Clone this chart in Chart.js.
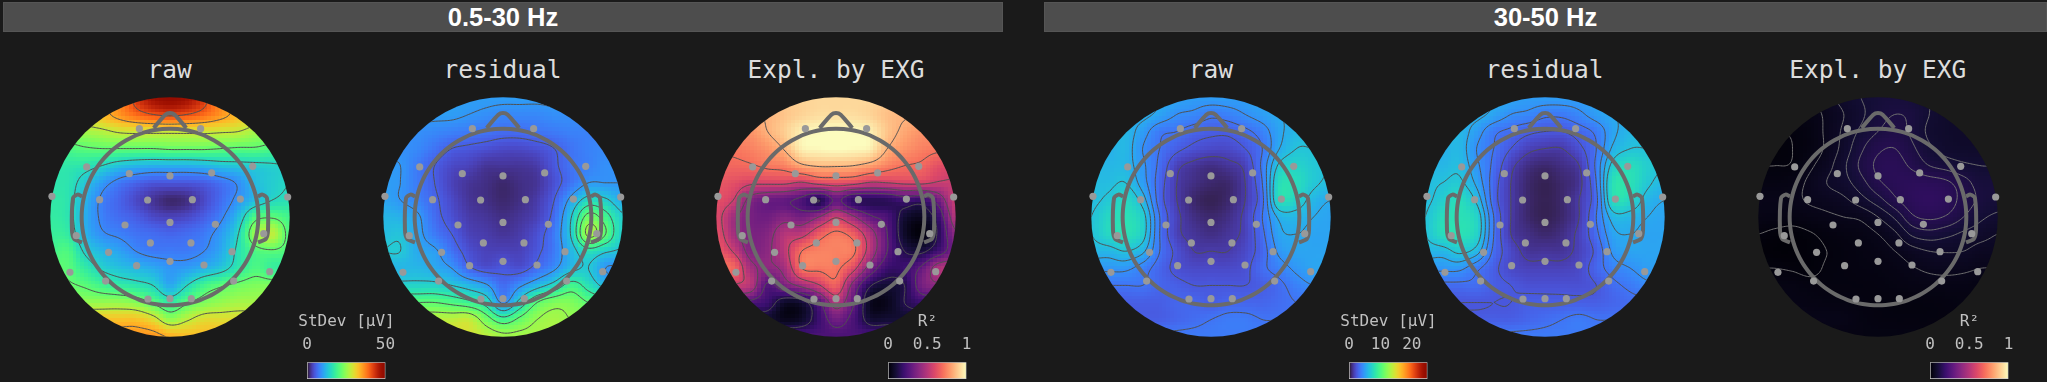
<!DOCTYPE html>
<html>
<head>
<meta charset="utf-8">
<title>EEG topomaps</title>
<script src="https://cdn.jsdelivr.net/npm/chart.js@4"></script>
<style>
  html, body { margin: 0; padding: 0; background: #1a1a1a; width: 2047px; height: 382px; overflow: hidden; }
  .head { position: absolute; top: 2px; height: 30px; background: #4d4d4d; border: 1px solid #555; box-sizing: border-box;
    color: #fff; font: bold 25.5px "Liberation Sans", sans-serif; text-align: center; line-height: 28px; }
  .ttl { position: absolute; top: 55px; width: 260px; text-align: center; color: #ddd; font: 24.5px "DejaVu Sans Mono", monospace; }
  canvas { position: absolute; }
</style>
</head>
<body>
<div class="head" style="left:3px;width:1000px">0.5-30 Hz</div>
<div class="head" style="left:1044px;width:1003px">30-50 Hz</div>
<script>
// band headers and panels
const panelTitles = ["raw", "residual", "Expl. by EXG", "raw", "residual", "Expl. by EXG"];
const panelCenters = [169.7, 502.5, 836, 1211, 1544.5, 1877.7];

// sensor positions in head radius units
const sensorX = [-.256,.256,-.696,-.34,0,.348,.691,-.986,-.588,-.187,.187,.588,.983,-.376,0,.379,-.783,.783,-.164,.175,-.513,.518,-.279,0,.284,-.836,.833,-.538,.532,-.184,0,.178];
const sensorY = [.738,.738,.418,.362,.343,.368,.423,.173,.145,.142,.145,.15,.167,-.067,-.045,-.061,-.156,-.139,-.217,-.217,-.295,-.29,-.407,-.37,-.401,-.462,-.457,-.535,-.535,-.685,-.682,-.682];

// head outline
const noseX = [-.136,-.039,0,.039,.136];
const noseY = [.744,.855,.869,.855,.744];
const earX = [-.735,-.772,-.81,-.819,-.8,-.735];
const earY = [.173,.187,.159,-.106,-.184,-.212];

// values, percent of the colorbar, top row first
const raw1 = [
  [60,60,60,62,70,85,94,97,94,85,70,62,60,60,60],
  [62,62,62,66,72,78,82,84,82,78,72,66,62,62,62],
  [50,50,52,54,57,58,58,58,58,58,57,56,52,50,50],
  [40,40,42,43,43,43,43,44,44,44,43,42,42,40,40],
  [34,34,33,30,26,24,23,23,23,24,26,27,28,29,30],
  [33,33,27,20,15,12,10,10,10,11,14,18,25,28,30],
  [34,33,24,16,12,8,5,3,4,8,13,19,25,30,32],
  [35,33,23,16,13,11,8,7,8,11,16,25,40,42,38],
  [36,35,24,18,16,14,13,12,13,15,20,30,50,55,40],
  [38,40,29,24,21,17,15,15,15,17,22,32,40,42,40],
  [42,42,35,29,26,24,22,19,20,23,27,34,40,36,36],
  [44,44,42,38,35,33,30,22,30,38,42,45,47,47,47],
  [50,50,50,50,50,48,42,35,42,47,50,52,52,52,52],
  [65,65,65,65,65,65,60,50,55,60,60,60,60,60,60],
  [72,72,72,72,72,72,72,68,66,66,66,66,66,66,66]
];
const residual1 = [
  [20,20,20,20,20,20,20,20,20,20,20,20,20,20,20],
  [20,20,20,20,20,19,18,17,17,17,18,18,18,18,18],
  [18,18,18,17,16,15,14,13,13,14,15,16,16,16,16],
  [18,18,17,14,11,10,9,8,8,9,11,14,16,17,17],
  [19,19,15,11,8,7,5,5,5,6,10,14,16,18,18],
  [20,19,15,11,7,5,4,3,4,5,9,14,19,19,19],
  [21,19,16,12,8,5,4,3,4,6,11,21,30,28,22],
  [24,23,20,13,9,6,5,4,5,7,13,27,45,38,28],
  [25,26,21,15,11,7,6,5,6,9,15,28,52,42,28],
  [27,27,22,20,14,9,7,7,7,10,15,24,32,28,26],
  [24,24,24,22,19,12,9,10,9,13,18,25,27,19,19],
  [29,29,29,29,27,24,20,13,18,24,30,38,32,25,25],
  [42,42,42,42,40,37,32,18,30,42,47,47,42,40,40],
  [55,55,55,55,55,56,46,38,44,50,52,50,50,50,50],
  [58,58,58,58,58,58,55,52,52,52,52,52,52,52,52]
];
const expl1 = [
  [90,90,90,90,90,91,92,92,92,92,90,88,88,88,88],
  [85,85,85,85,88,91,93,93,93,91,87,85,85,85,85],
  [78,78,78,84,90,97,99,100,99,97,88,82,78,78,78],
  [72,72,74,78,85,97,99,100,99,97,84,78,74,72,72],
  [68,68,69,72,74,82,85,85,84,80,74,70,68,62,60],
  [64,62,58,58,58,55,60,62,60,55,56,58,58,55,55],
  [62,56,38,32,30,25,14,30,18,16,17,22,20,34,55],
  [60,45,35,33,38,34,42,55,44,30,24,10,6,20,50],
  [62,46,36,38,50,52,65,72,66,48,28,8,2,16,40],
  [65,55,38,40,52,70,74,74,72,50,28,14,12,22,35],
  [68,68,46,40,46,70,72,72,60,36,20,20,30,48,48],
  [60,55,50,26,36,45,55,66,38,15,10,14,34,40,40],
  [30,30,25,20,8,10,26,48,30,6,5,14,20,20,20],
  [10,10,10,10,5,8,20,33,24,10,10,10,10,10,10],
  [24,24,24,24,24,24,24,24,24,24,24,24,24,24,24]
];
const raw2 = [
  [22,22,22,22,22,21,20,20,20,20,21,22,22,22,22],
  [23,23,23,23,21,18,17,15,16,18,20,22,22,22,22],
  [24,24,24,20,15,14,12,11,11,13,16,21,24,24,24],
  [23,23,24,18,14,11,9,8,8,10,14,22,26,26,26],
  [24,24,24,19,13,7,5,4,5,7,15,27,29,27,26],
  [25,25,26,20,12,6,4,3,3,6,14,31,31,27,25],
  [25,27,30,24,12,6,3,2,3,6,13,31,29,24,22],
  [26,30,32,28,14,7,4,3,4,7,14,23,24,22,21],
  [26,30,32,28,14,7,5,4,5,7,13,21,22,21,21],
  [24,24,26,23,14,9,6,6,6,8,12,19,21,21,21],
  [19,19,19,16,12,9,8,8,8,9,13,16,19,21,21],
  [14,14,14,14,12,11,10,10,10,10,11,13,16,18,18],
  [11,11,11,11,11,12,12,11,12,12,12,13,14,14,14],
  [11,11,11,11,11,12,13,14,15,15,14,14,14,14,14],
  [15,15,15,15,15,15,15,15,15,15,15,15,15,15,15]
];
const residual2 = [
  [22,22,22,22,22,21,20,20,20,20,21,22,22,22,22],
  [23,23,23,23,21,18,17,15,15,17,20,22,22,22,22],
  [24,24,24,20,15,13,11,10,10,12,15,21,24,24,24],
  [23,23,24,18,14,10,7,6,6,9,14,23,26,26,26],
  [24,24,25,19,13,7,4,3,4,6,15,28,31,28,26],
  [25,26,27,21,12,6,3,2,3,5,14,32,32,27,24],
  [25,28,31,25,12,6,3,2,3,6,13,31,30,24,22],
  [26,31,32,29,14,6,3,2,3,6,14,24,24,22,21],
  [26,31,32,29,14,6,4,3,4,7,13,21,22,21,21],
  [24,24,27,24,13,8,5,5,5,7,11,19,21,21,21],
  [19,19,19,15,11,8,7,7,7,8,12,16,18,20,20],
  [13,13,13,13,11,10,9,9,9,9,10,13,15,17,17],
  [10,10,10,10,10,10,11,11,11,11,11,12,13,13,13],
  [11,11,11,11,11,11,12,13,14,15,14,14,14,14,14],
  [15,15,15,15,15,15,15,15,15,15,15,15,15,15,15]
];
const expl2 = [
  [4,4,4,4,6,8,9.5,10.5,11,10.5,9.5,8.5,8,8,8],
  [3,3,3,3.5,5,7,9,11,12,11.5,9.5,8,7.5,7.5,7.5],
  [2,2,2.2,3,5,7.5,10,12,13,11.5,9,8,7.5,7.5,7.5],
  [1.5,1.5,2,3,5,8,11.5,14,14.5,12.5,10,8.5,8,8,8],
  [2,2,2.2,4,6,9,12.5,15,15.5,14,12,11,10,9.5,9.5],
  [3,3,3.5,5,7,8.5,11,14,15.5,16,15.8,15,13,11,11],
  [4,4,4,4.8,5.5,6.5,8.5,11,14,16.2,17,16,13.5,11.5,10.5],
  [3.5,3.2,3,3.5,4,4.5,5,7,10,14,15,14.2,12,10,9],
  [2,1.5,1.2,1.8,2.5,3,3.5,4.5,6.5,10,11,10.2,9,8,7],
  [1.2,1,1,1.5,2,2.5,3,3.5,4.5,6,7,7.2,7,6,6],
  [2,2,1.8,1.5,2.2,2.5,2.8,3,3.5,4.3,5,5.3,5,4.5,4.5],
  [3,3,3,2.6,2.5,2.5,2.5,2.6,3,3.3,3.5,3.5,3.5,3.2,3.2],
  [3.5,3.5,3.5,3.2,3,3,2.7,2.5,2.4,2.4,2.5,2.7,3,3,3],
  [4,4,4,4,4,3.8,3,2.6,2.5,2.5,2.5,2.6,2.7,2.7,2.7],
  [3,3,3,3,3,3,3,3,3,3,3,3,3,3,3]
];
const panelGrids = [raw1, residual1, expl1, raw2, residual2, expl2];

// contour levels per panel
const raw1Levels = [17,30,43,56,69,82];
const residual1Levels = [11,19,27,35,42,50];
const expl1Levels = [14,28,42,56,70,84];
const raw2Levels = [6,10,14,18,22,26];
const residual2Levels = [6,10,14,18,22,26];
const expl2Levels = [2,4.5,7,9.5,12,14.5];
const panelLevels = [raw1Levels, residual1Levels, expl1Levels, raw2Levels, residual2Levels, expl2Levels];
const panelMaps = ["turbo", "turbo", "magma", "turbo", "turbo", "magma"];

// colorbars
const barTitles = ["StDev [µV]", "R²", "StDev [µV]", "R²"];
const barLeft = [307, 888.3, 1349.3, 1930.3];
const barMax = [50, 1, 25, 1];
const barTicks = [[0,50], [0,0.5,1], [0,10,20], [0,0.5,1]];
const barMaps = ["turbo", "magma", "turbo", "magma"];

const magmaStops = ["#000004","#140e36","#3b0f70","#641a80","#8c2981","#b5367a","#de4968","#f76f5c","#fe9f6d","#fecf92","#fcfdbf"];

function hexRgb(h) {
  return [parseInt(h.slice(1,3),16), parseInt(h.slice(3,5),16), parseInt(h.slice(5,7),16)];
}
function turbo(t) {
  const r = 0.13572138 + t*(4.6153926 + t*(-42.66032258 + t*(132.13108234 + t*(-152.94239396 + t*59.28637943))));
  const g = 0.09140261 + t*(2.19418839 + t*(4.84296658 + t*(-14.18503333 + t*(4.27729857 + t*2.82956604))));
  const b = 0.1066733 + t*(12.64194608 + t*(-60.58204836 + t*(110.36276771 + t*(-89.90310912 + t*27.34824973))));
  return [r,g,b].map(c => Math.max(0, Math.min(255, c*255)));
}
function magma(t) {
  const p = Math.max(0, Math.min(0.9999, t)) * 10, i = Math.floor(p), f = p - i;
  const a = hexRgb(magmaStops[i]), b = hexRgb(magmaStops[i+1]);
  return a.map((c, k) => c + (b[k]-c)*f);
}
function cssColor(name, t) {
  const c = (name === "turbo" ? turbo : magma)(t);
  return `rgb(${Math.round(c[0])},${Math.round(c[1])},${Math.round(c[2])})`;
}
function cubic(a, b, c, d, f) {
  return b + 0.5*f*(c-a + f*(2*a-5*b+4*c-d + f*(3*(b-c)+d-a)));
}
// samples the read grid the way imshow does with bicubic display
function sampleGrid(grid, x, y) {
  const n = grid.length - 1;
  const gx = (x+1)/2*n, gy = (1-y)/2*n;
  const ix = Math.max(0, Math.min(n-1, Math.floor(gx))), iy = Math.max(0, Math.min(n-1, Math.floor(gy)));
  const fx = gx-ix, fy = gy-iy;
  const cl = i => Math.max(0, Math.min(n, i));
  const rows = [-1,0,1,2].map(k => {
    const r = grid[cl(iy+k)];
    return cubic(r[cl(ix-1)], r[ix], r[cl(ix+1)], r[cl(ix+2)], fx);
  });
  return cubic(rows[0], rows[1], rows[2], rows[3], fy);
}

const fieldPlugin = {
  id: "field",
  beforeDatasetsDraw(chart, args, opts) {
    const ctx = chart.ctx, sx = chart.scales.x, sy = chart.scales.y;
    const cx = sx.getPixelForValue(0), cy = sy.getPixelForValue(0);
    const rad = sx.getPixelForValue(1) - cx;
    const colorOf = opts.map === "turbo" ? turbo : magma;
    ctx.save();
    ctx.beginPath();
    ctx.arc(cx, cy, rad, 0, Math.PI*2);
    ctx.clip();
    const cells = 64;
    for (let j = 0; j < cells; j++) {
      for (let i = 0; i < cells; i++) {
        const x0 = -1 + 2*i/cells, x1 = -1 + 2*(i+1)/cells;
        const y1 = 1 - 2*j/cells, y0 = 1 - 2*(j+1)/cells;
        const v = sampleGrid(opts.grid, (x0+x1)/2, (y0+y1)/2);
        const c = colorOf(v/100);
        ctx.fillStyle = `rgb(${c[0]|0},${c[1]|0},${c[2]|0})`;
        const px = Math.round(sx.getPixelForValue(x0)), py = Math.round(sy.getPixelForValue(y1));
        ctx.fillRect(px, py, Math.round(sx.getPixelForValue(x1))-px, Math.round(sy.getPixelForValue(y0))-py);
      }
    }
    // contour lines, marching squares on the sampled field
    const m = 160, h = 2/m;
    const vals = [];
    for (let j = 0; j <= m; j++) {
      const row = [];
      for (let i = 0; i <= m; i++) row.push(sampleGrid(opts.grid, -1+i*h, 1-j*h));
      vals.push(row);
    }
    ctx.strokeStyle = opts.lineColor;
    ctx.lineWidth = 1;
    ctx.beginPath();
    for (const lv of opts.levels) {
      for (let j = 0; j < m; j++) {
        for (let i = 0; i < m; i++) {
          const a = vals[j][i], b = vals[j][i+1], c = vals[j+1][i+1], d = vals[j+1][i];
          const pts = [];
          const X = -1+i*h, Y = 1-j*h;
          if ((a<lv) !== (b<lv)) pts.push([X + h*(lv-a)/(b-a), Y]);
          if ((b<lv) !== (c<lv)) pts.push([X + h, Y - h*(lv-b)/(c-b)]);
          if ((d<lv) !== (c<lv)) pts.push([X + h*(lv-d)/(c-d), Y - h]);
          if ((a<lv) !== (d<lv)) pts.push([X, Y - h*(lv-a)/(d-a)]);
          for (let k = 0; k+1 < pts.length; k += 2) {
            ctx.moveTo(sx.getPixelForValue(pts[k][0]), sy.getPixelForValue(pts[k][1]));
            ctx.lineTo(sx.getPixelForValue(pts[k+1][0]), sy.getPixelForValue(pts[k+1][1]));
          }
        }
      }
    }
    ctx.stroke();
    ctx.restore();
  }
};

function addCanvas(left, top, w, h) {
  const c = document.createElement("canvas");
  c.width = w; c.height = h;
  c.style.left = left + "px"; c.style.top = top + "px";
  c.style.width = w + "px"; c.style.height = h + "px";
  document.body.appendChild(c);
  return c;
}

function outline(points) {
  return { data: points, showLine: true, pointRadius: 0, borderColor: "#6a6a6a", borderWidth: 4, tension: 0.25, fill: false };
}

const circlePts = [];
for (let a = 0; a <= 72; a++) {
  circlePts.push({ x: .738*Math.cos(a*Math.PI/36), y: .738*Math.sin(a*Math.PI/36) });
}

panelCenters.forEach((cx, p) => {
  const t = document.createElement("div");
  t.className = "ttl";
  t.style.left = (cx-130) + "px";
  t.textContent = panelTitles[p];
  document.body.appendChild(t);

  const span = 130/119.7;
  const grid = panelGrids[p];
  const gridPts = [];
  grid.forEach((row, j) => row.forEach((v, i) => gridPts.push({ x: -1+i/7, y: 1-j/7, v: v })));
  new Chart(addCanvas(cx-130, 87, 260, 260), {
    type: "scatter",
    data: { datasets: [
      { data: sensorX.map((x, i) => ({ x: x, y: sensorY[i] })), pointRadius: 3.6, pointBorderWidth: 0, backgroundColor: "#999999" },
      outline(circlePts),
      outline(noseX.map((x, i) => ({ x: x, y: noseY[i] }))),
      outline(earX.map((x, i) => ({ x: x, y: earY[i] }))),
      outline(earX.map((x, i) => ({ x: -x, y: earY[i] }))),
      { data: gridPts, pointRadius: 0 }
    ] },
    options: {
      responsive: false, animation: false, events: [],
      layout: { padding: 0, autoPadding: false },
      scales: {
        x: { type: "linear", display: false, min: -span, max: span },
        y: { type: "linear", display: false, min: -span, max: span }
      },
      plugins: {
        legend: { display: false }, tooltip: { enabled: false },
        field: { grid: grid, map: panelMaps[p], levels: panelLevels[p], lineColor: p === 5 ? "#727272" : "#505050" }
      }
    },
    plugins: [fieldPlugin]
  });
});

// blank side axes keep the bar narrow while the title gets the full canvas width
function sideAxis(position, width) {
  return {
    position: position,
    grid: { display: false }, border: { display: false }, ticks: { display: false },
    afterFit(s) { s.width = width; }
  };
}

barLeft.forEach((left, b) => {
  new Chart(addCanvas(left-40, 306, 159, 76), {
    type: "bar",
    data: { labels: [""], datasets: [{
      data: [[0, barMax[b]]],
      backgroundColor(c) {
        const area = c.chart.chartArea;
        if (!area) return "#000";
        const g = c.chart.ctx.createLinearGradient(area.left, 0, area.right, 0);
        for (let i = 0; i <= 32; i++) g.addColorStop(i/32, cssColor(barMaps[b], i/32));
        return g;
      },
      borderColor: "#cccccc", borderWidth: 1, borderSkipped: false, barPercentage: 1, categoryPercentage: 1
    }] },
    options: {
      indexAxis: "y", responsive: false, animation: false, events: [],
      layout: { padding: { left: 0, right: 0, top: 0, bottom: 3 }, autoPadding: false },
      scales: {
        y: Object.assign(sideAxis("left", 40), { type: "category" }),
        y2: Object.assign(sideAxis("right", 40.5), { type: "linear" }),
        x: {
          position: "top", min: 0, max: barMax[b],
          grid: { display: false }, border: { display: false },
          afterBuildTicks(s) { s.ticks = barTicks[b].map(v => ({ value: v })); },
          afterFit(s) { s.height = 29; },
          ticks: { color: "#c0c0c0", font: { family: "DejaVu Sans Mono", size: 16 }, padding: 0, maxRotation: 0, autoSkip: false, callback: v => String(v) }
        }
      },
      plugins: {
        legend: { display: false }, tooltip: { enabled: false },
        title: { display: true, text: barTitles[b], color: "#c0c0c0", font: { family: "DejaVu Sans Mono", size: 16, weight: "normal" }, padding: { top: 6, bottom: 2 } }
      }
    }
  });
});
</script>
</body>
</html>
